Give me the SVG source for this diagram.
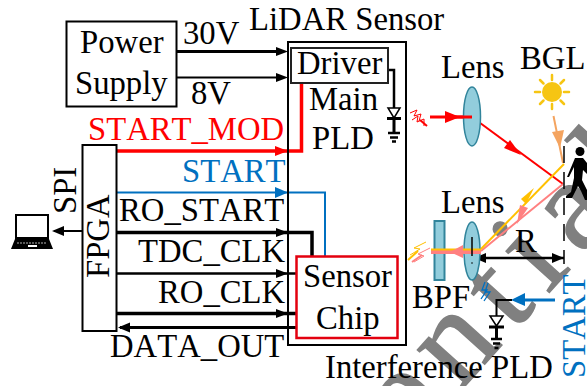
<svg xmlns="http://www.w3.org/2000/svg" width="587" height="386" viewBox="0 0 587 386">
<style>
text{font-family:"Liberation Serif","Times New Roman",serif;font-size:32.7px;font-kerning:none;fill:#000}
.bl{fill:#0070c0}.rd{fill:#f00}
.box{fill:none;stroke:#000;stroke-width:2}
.k{fill:none;stroke:#000}
.lens{fill:#92cddc;stroke:#31849b;stroke-width:1.5}
</style>
<rect width="587" height="386" fill="#fff"/>
<text id="watermark" transform="translate(411 446) rotate(-48)" letter-spacing="15" style="font-size:130px;fill:#808080;stroke:#808080;stroke-width:1.500">ential</text>

<g id="connectors">
<path class="k" style="stroke-width:3" d="M176 51.500H278"/>
<path d="M276 47L288 51.500L276 56Z"/>
<path class="k" style="stroke-width:2" d="M176 77.500H278"/>
<path d="M276 73L288 77.500L276 82Z"/>
<path fill="none" stroke="#f00" stroke-width="3.500" d="M117 151H301.500V83"/>
<path d="M275 146L288 151L275 156Z" fill="#f00"/>
<path fill="none" stroke="#0070c0" stroke-width="2" d="M117 192.500H325V256"/>
<path d="M275 187L288 192.500L275 198Z" fill="#0070c0"/>
<path class="k" style="stroke-width:3.500" d="M117 232.500H312V256"/>
<path d="M276 228L288 232.500L276 237Z"/>
<path class="k" style="stroke-width:2.500" d="M117 273.500H296"/>
<path d="M276 269L288 273.500L276 278Z"/>
<path class="k" style="stroke-width:3.500" d="M117 313.500H296"/>
<path d="M276 309L288 313.500L276 318Z"/>
<path class="k" style="stroke-width:3" d="M296 327.500H120"/>
<path d="M130 322.500L118 327.500L130 332.500Z"/>
<path class="k" style="stroke-width:2" d="M82 231H54"/>
<path d="M64 226L52 231L64 236Z"/>
<path class="k" style="stroke-width:2.500" d="M388 70H394V108"/>
<path fill="none" stroke="#f00" stroke-width="3" d="M430 117H472"/>
<path fill="none" stroke="#f00" stroke-width="2" d="M472 117L563 184"/>
<path d="M445 111L460 117L445 123Z" fill="#f00"/>
<path d="M510 140L521 155L504 148Z" fill="#f00"/>
<path fill="none" stroke="#f4a460" stroke-width="2" d="M553.500 116L563 163"/>
<path d="M552 132L564 130L560 148Z" fill="#f4a460"/>
<path fill="none" stroke="#ff8080" stroke-width="2" d="M563 184L481 251"/>
<path fill="none" stroke="#ffc000" stroke-width="2" d="M564 164L481 249"/>
<path d="M528 208L517 224L520 205Z" fill="#ff8080"/>
<path d="M534 188L526 204L521 199Z" fill="#ffc000"/>
<path d="M564 258H476" stroke="#000" stroke-width="2.500"/>
<path d="M552 253L564 258L552 263Z"/>
<path d="M474 258L486 253V263Z"/>
<path class="k" stroke-dasharray="17 9" style="stroke-width:1.500" d="M564 146V264"/>
<path fill="none" stroke="#0070c0" stroke-width="3" d="M555 300H518"/>
<path d="M525 293L511 300L525 306Z" fill="#0070c0"/>
<path class="k" style="stroke-width:2" d="M512 300H496.500V316"/>
</g>

<g id="power-supply"><rect class="box" x="66.500" y="21.500" width="110" height="85"/>
<text x="80" y="53">Power</text><text x="75" y="94">Supply</text></g>
<text x="183" y="44">30V</text>
<text x="191" y="104">8V</text>
<text x="249" y="30">LiDAR Sensor</text>

<g id="lidar-sensor"><rect class="box" x="288" y="42" width="118" height="303"/></g>
<g id="driver"><rect fill="#fff" stroke="#222" stroke-width="2" x="291" y="48" width="97" height="35"/><text x="297" y="74">Driver</text></g>
<text x="309" y="110">Main</text><text x="312" y="149">PLD</text>

<text class="rd" x="88" y="140">START_MOD</text>
<text class="bl" x="182" y="182">START</text>
<text x="119" y="221">RO_START</text>
<text x="138" y="262">TDC_CLK</text>
<text x="158" y="303">RO_CLK</text>
<text x="110" y="357">DATA_OUT</text>

<g id="fpga"><rect class="box" x="82.500" y="145" width="34" height="186"/>
<text transform="translate(109 278) rotate(-90)">FPGA</text></g>
<text transform="translate(76 214) rotate(-90)">SPI</text>

<g id="laptop"><rect x="16" y="215" width="32" height="23" fill="#fff" stroke="#000" stroke-width="2"/><path d="M15 239H49L53 249H11Z"/><path d="M28 246H37" stroke="#fff" stroke-width="2"/><path d="M17 243H47" stroke="#fff" stroke-width=".7" stroke-dasharray="2 1"/></g>

<g id="sensor-chip"><rect fill="#fff" stroke="#e3000f" stroke-width="2.500" x="296.500" y="256.500" width="101" height="81.500"/>
<text x="303" y="287">Sensor</text><text x="316" y="329">Chip</text></g>

<g id="main-pld-diode"><path d="M388 108H400L394 118Z" fill="#fff" stroke="#000" stroke-width="1.500"/><path class="k" style="stroke-width:3" d="M387 118.500H401M394 118V133"/><path class="k" style="stroke-width:2.500" d="M388 133H400M390 137.500H398M392 141.500H396"/></g>

<g id="lens1"><ellipse class="lens" cx="472" cy="116.500" rx="8.500" ry="29.500"/><text x="441" y="78">Lens</text></g>
<path fill="none" stroke="#f00" stroke-width="3" d="M455 117H472"/>
<g id="emit1" fill="none" stroke="#f00" stroke-width="1"><path d="M410 113L417 110L414 116L421 114L419 121M412 120L418 116L417 122L424 119L424 126"/><path d="M420 120L427 126" stroke-width="2"/></g>

<text x="520" y="69">BGL</text>
<g id="sun"><circle cx="552" cy="92" r="10" fill="#f6c513"/><path stroke="#f6c513" stroke-width="2.500" stroke-linecap="round" d="M552 75V80M552 104V109M535 92H540M564 92H569M540 80L543.500 83.500M560.500 100.500L564 104M540 104L543.500 100.500M560.500 83.500L564 80"/></g>

<g id="person"><circle cx="580" cy="151.500" r="4.500"/><path d="M575 158H583L587 163V174L583 170L582 180L587 190V200H585L581 191L578 186L572 198H566V196L571 192L574 178L574 167L569 177H567Z"/></g>

<g id="bpf"><rect x="434.500" y="221" width="10" height="59" fill="#92cddc" stroke="#31849b" stroke-width="2"/></g>
<text x="412" y="308">BPF</text>
<g id="lens2"><ellipse class="lens" cx="472" cy="251" rx="8" ry="29"/><text x="441" y="213">Lens</text></g>
<path fill="none" stroke="#ff8080" stroke-width="4" d="M431 252H481"/>
<path fill="none" stroke="#ffc000" stroke-width="2" d="M431 249.500H481"/>
<path d="M463 245L450 252L463 258Z" fill="#ff8080"/>
<path d="M472 237V256" stroke="#000" stroke-width="1.500"/><circle cx="472" cy="263" r="0.800"/>
<text x="515" y="252">R</text>
<g id="emit2" fill="none" stroke-width="1"><path stroke="#ffc000" d="M410 255L420 249L414 248L426 242"/><path d="M408 260L418 251" stroke="#ffc000" stroke-width="2"/><path stroke="#ff8080" d="M414 262L424 256L418 254L430 248"/><path d="M412 262L422 255" stroke="#ff8080" stroke-width="2"/></g>
<g id="emit3" fill="none" stroke="#0070c0" stroke-width="1.300"><path d="M484 301L490 292L485 292L488 283M481 299L487 290L482 290L485 282"/></g>

<g id="interference-diode"><path d="M490 316H503L496.500 326Z" fill="#fff" stroke="#000" stroke-width="1.500"/><path class="k" style="stroke-width:3" d="M489 327H504M496.500 326V339"/><path class="k" style="stroke-width:2.500" d="M491 339H502M493 343.500H500M494.500 348H498.500"/></g>
<text x="325" y="378">Interference PLD</text>
<text class="bl" transform="translate(585 378) rotate(-90)">START</text>
</svg>
